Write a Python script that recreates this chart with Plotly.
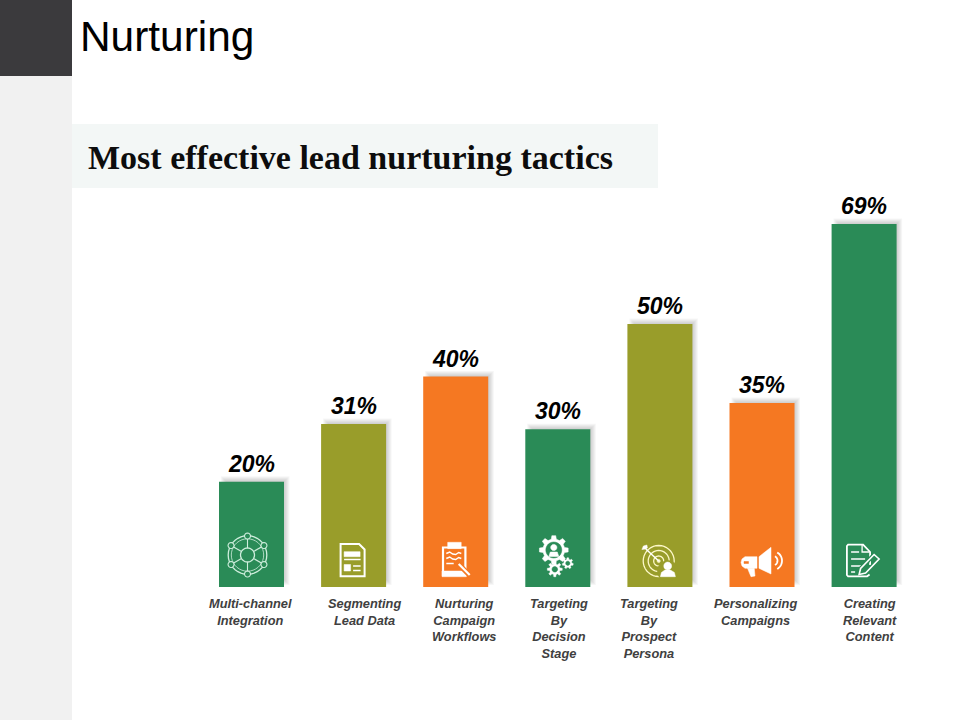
import numpy as np
import plotly.graph_objects as go

# ---- data ----
categories = ["Multi-channel<br>Integration", "Segmenting<br>Lead Data",
              "Nurturing<br>Campaign<br>Workflows", "Targeting<br>By<br>Decision<br>Stage",
              "Targeting<br>By<br>Prospect<br>Persona", "Personalizing<br>Campaigns",
              "Creating<br>Relevant<br>Content"]
values = [20, 31, 40, 30, 50, 35, 69]
value_labels = ["20%", "31%", "40%", "30%", "50%", "35%", "69%"]
bar_colors = ["#2a8b57", "#999d2a", "#f57822", "#2a8b57", "#999d2a", "#f57822", "#2a8b57"]
label_shift_px = [-1.5, 10.5, 8.5, 1.5, -10.5, -7, 5.5]

# ---- layout constants (pixels on the 960x720 page) ----
W, H = 960, 720
BASE = 587
PX_PER_VAL = 5.26
STEP = 102.1
FIRST = 251.5
BAR_PX = 65
bw = BAR_PX / STEP
xrange = [-FIRST / STEP, (W - FIRST) / STEP]
yrange = [0, BASE / PX_PER_VAL]


def px2y(p):
    return p / PX_PER_VAL


fig = go.Figure()

# soft drop shadow built up from translucent bars
for e in [2.5, 1.5, 0.5, -0.5, -1.5, -2.5]:
    base_px = 4.5 - e
    fig.add_trace(go.Bar(
        x=categories,
        y=[v + px2y(3 + e - base_px) for v in values],
        base=px2y(base_px),
        width=(BAR_PX - 1.5 + 2 * e) / STEP,
        offset=(-BAR_PX / 2 + 4.5 - e) / STEP,
        marker=dict(color="rgba(70,70,70,0.05)", line=dict(width=0)),
        hoverinfo="skip", showlegend=False,
    ))

fig.add_trace(go.Bar(
    x=categories, y=values, width=bw,
    marker=dict(color=bar_colors, line=dict(width=0)),
    showlegend=False,
))

shapes = [
    dict(type="rect", xref="paper", yref="paper", layer="below", x0=0, x1=72 / W, y0=0, y1=1,
         fillcolor="#f1f1f1", line_width=0),
    dict(type="rect", xref="paper", yref="paper", layer="below", x0=0, x1=72 / W, y0=1 - 76 / H, y1=1,
         fillcolor="#3b3a3d", line_width=0),
    dict(type="rect", xref="paper", yref="paper", layer="below", x0=72 / W, x1=658 / W,
         y0=1 - 188 / H, y1=1 - 124 / H, fillcolor="#f3f7f6", line_width=0),
]


# ---- icon helpers: paths are in pixels, anchored on each bar's foot ----
def fmt(pts, closed=False):
    s = "M" + " L".join(f"{x:.2f},{y:.2f}" for x, y in pts)
    return s + (" Z" if closed else "")


def arc(cx, cy, r, a0=0, a1=360, n=36):
    t = np.radians(np.linspace(a0, a1, n + 1))
    return list(zip(cx + r * np.cos(t), cy + r * np.sin(t)))


def gear(cx, cy, r_out, r_in, teeth):
    pts = []
    for k in range(teeth):
        a = 360 / teeth * k
        w = 360 / teeth
        for ang, r in [(a - .30 * w, r_in), (a - .17 * w, r_out), (a + .17 * w, r_out), (a + .30 * w, r_in)]:
            t = np.radians(ang + 90)
            pts.append((cx + r * np.cos(t), cy + r * np.sin(t)))
    return pts


def add(i, pts, color="white", width=1.5, fill=None, closed=False):
    shapes.append(dict(
        type="path", xref="x", yref="y", xsizemode="pixel", ysizemode="pixel",
        xanchor=categories[i], yanchor=0, layer="above",
        path=fmt(pts, closed or fill is not None),
        line=dict(color=color, width=width),
        fillcolor=fill if fill else "rgba(0,0,0,0)",
    ))


def rect(x0, y0, x1, y1):
    return [(x0, y0), (x1, y0), (x1, y1), (x0, y1)]


# 0: network ring
pale = "#cfeedd"
c0 = (-4, 32)
add(0, arc(*c0, 19.3), pale, 1.3)
add(0, arc(*c0, 16.2), pale, 0.8)
add(0, arc(*c0, 7), pale, 1.3)
for a in range(30, 390, 60):
    t = np.radians(a)
    add(0, [(c0[0] + 7 * np.cos(t), c0[1] + 7 * np.sin(t)), (c0[0] + 19 * np.cos(t), c0[1] + 19 * np.sin(t))], pale, 1.1)
    add(0, arc(c0[0] + 19 * np.cos(t), c0[1] + 19 * np.sin(t), 3, n=16), pale, 1.1, fill=bar_colors[0])

# 1: document
add(1, [(-13, 10.7), (-13, 43), (5.5, 43), (11, 37.5), (11, 10.7)], "white", 2, closed=True)
add(1, rect(-9.5, 35.3, 6.5, 30.3), "white", 0.5, fill="white")
add(1, [(-9.5, 27.5), (7, 27.5)], "white", 1.5)
add(1, rect(-9.5, 22.5, -3, 16), "white", 0.5, fill="white")
add(1, [(-0.5, 21), (7, 21)], "white", 1.5)
add(1, [(-0.5, 16.5), (7, 16.5)], "white", 1.5)

# 2: clipboard
add(2, rect(-12.7, 39.5, 9.7, 12), "white", 2.2, closed=True)
add(2, rect(-13.7, 16, 10.7, 10.3), "white", 0.5, fill="white")
add(2, rect(-8, 44.7, 5.5, 38.4), "white", 0.5, fill="white")
add(2, [(-9.4, 33.5), (-6, 35), (-3, 33), (0, 32.5), (3, 34.5), (5.6, 33.5)], "white", 1.5)
add(2, [(-9.4, 28.5), (-6, 30), (-3, 28), (0, 27.5), (3, 29.5), (5.6, 28.5)], "white", 1.5)
add(2, [(-9.4, 23.5), (-2, 23.5)], "white", 1.5)
add(2, [(1, 25), (14, 11.5)], bar_colors[2], 5)
add(2, [(3, 23), (14, 12)], "white", 2.2)

# 3: gears with a person
g = bar_colors[3]
add(3, gear(-4, 37, 14.5, 11, 8), "white", 0.5, fill="white")
add(3, arc(-4, 37, 8, n=24), g, 0.5, fill=g)
add(3, arc(-4, 39.5, 3.1, n=20), "white", 0.5, fill="white")
add(3, [(-9, 30.5), (-7.5, 35), (-0.5, 35), (1, 30.5)], "white", 0.5, fill="white")
add(3, gear(-3, 17.7, 7.5, 5.3, 8), "white", 0.5, fill="white")
add(3, arc(-3, 17.7, 2.8, n=20), g, 0.5, fill=g)
add(3, gear(10, 23.7, 5.5, 4, 7), "white", 0.5, fill="white")
add(3, arc(10, 23.7, 2.1, n=20), g, 0.5, fill=g)

# 4: target, arrow and person
ol = "#fdf8c8"
c4 = (-1.2, 26)
for r, w in [(15.5, 1.3), (10.5, 1.3), (5, 1.3)]:
    add(4, arc(*c4, r), ol, w)
add(4, arc(*c4, 1.6, n=16), ol, 0.5, fill=ol)
add(4, [c4, (-14, 38)], "white", 1.5)
add(4, [(-14, 38), (-18, 37.5), (-16.5, 41), (-13, 42), (-12.5, 39)], "white", 0.5, fill="white")
add(4, arc(8, 16, 10.5, n=24), bar_colors[4], 0.5, fill=bar_colors[4])
add(4, arc(7.8, 21, 3.9, n=20), "white", 0.5, fill="white")
add(4, [(0.5, 10.3), (1.5, 14.5), (5, 17), (10.5, 17), (14.5, 14.5), (15.5, 10.3)], "white", 0.5, fill="white")

# 5: megaphone
add(5, [(-3, 30.3), (9, 39.7), (9, 13), (-3, 18.7)], "white", 0.5, fill="white")
add(5, [(-17, 30.3), (-5, 30.3), (-5, 18.7), (-17, 18.7), (-20, 21), (-21, 24.5), (-20, 28)], "white", 0.5, fill="white")
add(5, rect(-18, 25.5, -13.5, 23.5), bar_colors[5], 0.5, fill=bar_colors[5])
add(5, [(-14.5, 18.7), (-7.75, 18.7), (-7, 11), (-11, 10.3)], "white", 0.5, fill="white")
add(5, arc(10.5, 26.3, 5, -60, 60, 14), "white", 1.8)
add(5, arc(10.5, 26.3, 9.5, -60, 60, 16), "white", 1.8)

# 6: document and pen
add(6, [(6, 22), (6, 35), (-1, 42.3), (-16, 42.3), (-17.2, 41), (-17.2, 12), (-16, 10.7), (3, 10.7), (5.5, 12.5)],
    "white", 1.8)
add(6, [(-2, 42), (-2, 35), (5.5, 35)], "white", 1.3)
for up, x1 in [(35, -5), (28, 1), (21, -3), (15, -9)]:
    add(6, [(-13, up), (x1, up)], "white", 1.5)
add(6, [(-5, 12.5), (-3.5, 18.5), (10, 32.5), (15, 28), (1.5, 14)], bar_colors[6], 4)
add(6, [(-5, 12.5), (-3.5, 18.5), (10, 32.5), (15, 28), (1.5, 14)], "white", 1.6, closed=True)

# ---- text ----
ann = [
    dict(text="Nurturing", xref="paper", yref="paper", x=77.5 / W, y=1 - 36.5 / H, xanchor="left", yanchor="middle",
         showarrow=False, font=dict(family="Liberation Sans", size=42.4, color="#000000")),
    dict(text="<b>Most effective lead nurturing tactics</b>", xref="paper", yref="paper", x=85.5 / W, y=1 - 157 / H,
         xanchor="left", yanchor="middle", showarrow=False,
         font=dict(family="Liberation Serif", size=34, color="#0d0d0d")),
]
for c, v, t, s in zip(categories, values, value_labels, label_shift_px):
    ann.append(dict(text=f"<b><i>{t}</i></b>", x=c, y=v, yanchor="bottom", yshift=3, showarrow=False,
                    font=dict(family="Liberation Sans", size=23, color="#000000")))
    ann.append(dict(text=f"<b><i>{c}</i></b>", x=c, y=0, yanchor="top", xshift=s, yshift=-6.5, showarrow=False,
                    align="center", font=dict(family="Liberation Sans", size=12.8, color="#404040")))

fig.update_layout(
    width=W, height=H, margin=dict(l=0, r=0, t=0, b=0),
    paper_bgcolor="white", plot_bgcolor="rgba(0,0,0,0)",
    barmode="overlay", showlegend=False,
    xaxis=dict(type="category", categoryorder="array", categoryarray=categories, range=xrange,
               domain=[0, 1], visible=False, fixedrange=True),
    yaxis=dict(range=yrange, domain=[(H - BASE) / H, 1], visible=False, fixedrange=True),
    shapes=shapes, annotations=ann,
)
fig.write_html("out.html", config=dict(displayModeBar=False),
               post_script="document.body.style.margin='0';")
